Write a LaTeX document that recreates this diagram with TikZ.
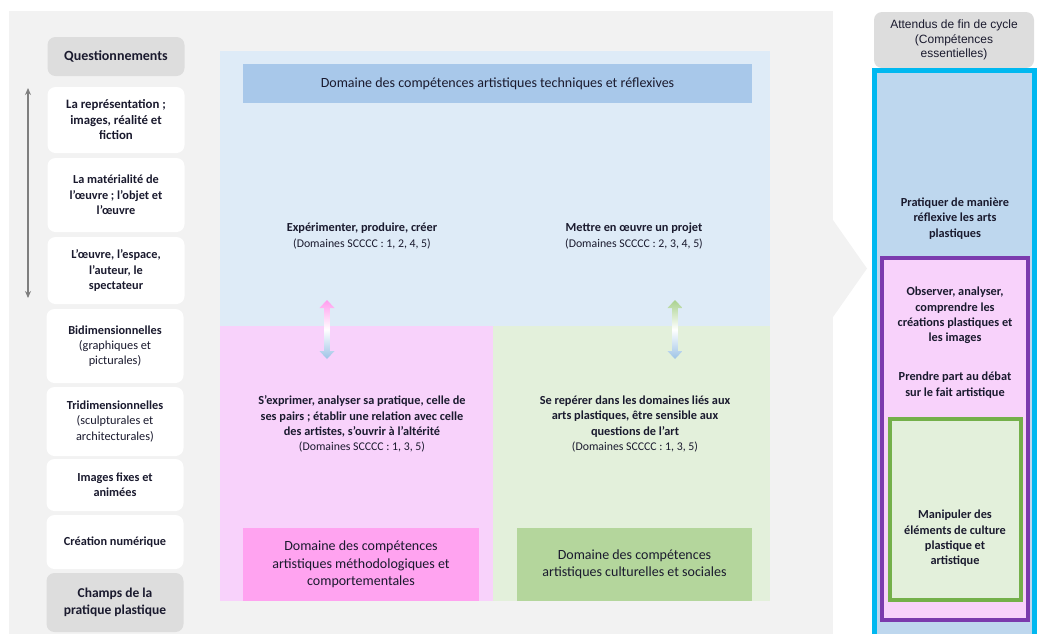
\documentclass[tikz,border=0pt]{standalone}
\usepackage{fontspec}
\setmainfont{Carlito}
\newfontfamily\arialf{Liberation Sans}
\usetikzlibrary{arrows.meta}
\definecolor{panelgray}{HTML}{F2F2F2}
\definecolor{boxgray}{HTML}{DDDDDD}
\definecolor{bluebg}{HTML}{DEEBF7}
\definecolor{bluebanner}{HTML}{A8C8EA}
\definecolor{pinkbg}{HTML}{F8D2FB}
\definecolor{greenbg}{HTML}{E3F0DB}
\definecolor{pinkbox}{HTML}{FFA3F0}
\definecolor{greenbox}{HTML}{B4D69C}
\definecolor{cyanline}{HTML}{00B8F0}
\definecolor{rightblue}{HTML}{BED7EE}
\definecolor{purpleline}{HTML}{7B3BAD}
\definecolor{greenline}{HTML}{74B04A}
\definecolor{arrowpink}{HTML}{FF9CEE}
\definecolor{arrowgreen}{HTML}{A9D18E}
\definecolor{arrowblue}{HTML}{9DC3E6}
\definecolor{txt}{HTML}{1A1A2E}
\definecolor{lgray}{HTML}{7F7F7F}
\newcommand{\mysz}{\fontsize{12.3}{15.3}\selectfont}
\newcommand{\mybig}{\fontsize{14}{17.5}\selectfont}
\newcommand{\mysmall}{\fontsize{11.8}{14.5}\selectfont}
\begin{document}
\begin{tikzpicture}[x=1pt,y=-1pt,
  lbox/.style={rounded corners=8pt, fill=white, minimum width=137pt, align=center, inner sep=0pt, font=\mysz, text=txt},
  gbox/.style={lbox, fill=boxgray},
  ctext/.style={align=center, inner sep=0pt, font=\mysz, text=txt},
  rtext/.style={ctext, font=\mysz\bfseries},
  dbox/.style={minimum height=73pt, inner sep=0pt, align=center, font=\mybig, text=txt}]
\useasboundingbox (0,0) rectangle (1038,633);
\clip (0,0) rectangle (1038,633);
% background panel and chevron
\fill[panelgray] (9,11) rectangle (833,640);
\fill[panelgray] (833,220) -- (867,268.5) -- (833,317) -- cycle;

% left column
\node[gbox, minimum height=39pt, font=\mybig\bfseries] (q) at (116,56.5) {Questionnements};
\node[lbox, minimum height=66pt, font=\fontsize{12.8}{15.5}\selectfont\bfseries] (b1) at (116,120) {La représentation ;\\images, réalité et\\fiction};
\node[lbox, minimum height=74pt, font=\mysz\bfseries] (b2) at (116,195) {La matérialité de\\l’œuvre ; l’objet et\\l’œuvre};
\node[lbox, minimum height=67pt, font=\mysz\bfseries] (b3) at (116,270.5) {L’œuvre, l’espace,\\l’auteur, le\\spectateur};
\node[lbox, minimum height=74pt] (b4) at (115,346) {\textbf{Bidimensionnelles}\\(graphiques et\\picturales)};
\node[lbox, minimum height=69pt] (b5) at (115,421.5) {\textbf{Tridimensionnelles}\\(sculpturales et\\architecturales)};
\node[lbox, minimum height=52pt, font=\mysz\bfseries] (b6) at (115,485) {Images fixes et\\animées};
\node[lbox, minimum height=54pt, font=\mysz\bfseries] (b7) at (115,542) {Création numérique};
\node[gbox, minimum height=59pt, font=\fontsize{13.5}{17}\selectfont\bfseries] (c) at (115,602.5) {Champs de la\\pratique plastique};
\coordinate (ltop) at (28,88);
\coordinate (lbot) at (28,298);
\draw[line width=2.3pt, color=lgray, {Stealth[length=7pt,width=6pt]}-{Stealth[length=7pt,width=6pt]}] (ltop) -- (lbot);

% main panel
\fill[bluebg] (220,51) rectangle (770,326);
\fill[pinkbg] (220,326) rectangle (493,601);
\fill[greenbg] (493,326) rectangle (770,601);
\node[fill=bluebanner, minimum width=509pt, minimum height=39pt, inner sep=0pt, font=\mybig, text=txt] (ban) at (497.5,83.5) {Domaine des compétences artistiques techniques et réflexives};
\node[dbox, fill=pinkbox, minimum width=236pt] (pb) at (361,564.5) {Domaine des compétences\\artistiques méthodologiques et\\comportementales};
\node[dbox, fill=greenbox, minimum width=235pt] (gb) at (634.5,564.5) {Domaine des compétences\\artistiques culturelles et sociales};

\node[ctext] (t1) at (362,236) {\textbf{Expérimenter, produire, créer}\\{\mysmall(Domaines SCCCC : 1, 2, 4, 5)}};
\node[ctext] (t2) at (634,236) {\textbf{Mettre en œuvre un projet}\\{\mysmall(Domaines SCCCC : 2, 3, 4, 5)}};
\node[ctext] (t3) at (362,424) {\textbf{S’exprimer, analyser sa pratique, celle de}\\\textbf{ses pairs ; établir une relation avec celle}\\\textbf{des artistes, s’ouvrir à l’altérité}\\{\mysmall(Domaines SCCCC : 1, 3, 5)}};
\node[ctext] (t4) at (635,424) {\textbf{Se repérer dans les domaines liés aux}\\\textbf{arts plastiques, être sensible aux}\\\textbf{questions de l’art}\\{\mysmall(Domaines SCCCC : 1, 3, 5)}};

% double arrows
\shade[top color=arrowpink, bottom color=arrowblue, middle color=white]
  (327,300) -- (334.5,308) -- (329.8,308) -- (329.8,351) -- (334.5,351) -- (327,359) -- (319.5,351) -- (324.2,351) -- (324.2,308) -- (319.5,308) -- cycle;
\shade[top color=arrowgreen, bottom color=arrowblue, middle color=white]
  (675,300) -- (682.5,308) -- (677.8,308) -- (677.8,351) -- (682.5,351) -- (675,359) -- (667.5,351) -- (672.2,351) -- (672.2,308) -- (667.5,308) -- cycle;

% right column
\node[rounded corners=8pt, fill=boxgray, minimum width=160pt, minimum height=56pt, inner sep=0pt, align=center, font=\arialf\fontsize{12}{14.2}\selectfont, text=txt] (att) at (954,40) {Attendus de fin de cycle\\(Compétences\\essentielles)};
\draw[line width=5pt, draw=cyanline, fill=rightblue] (874.5,70.5) rectangle (1034.5,650);
\draw[line width=4pt, draw=purpleline, fill=pinkbg] (882,258) rectangle (1028,620);
\draw[line width=4pt, draw=greenline, fill=greenbg] (890,419) rectangle (1021,600);
\node[rtext] (r1) at (955,218.5) {Pratiquer de manière\\réflexive les arts\\plastiques};
\node[rtext] (r2) at (955,315.5) {Observer, analyser,\\comprendre les\\créations plastiques et\\les images};
\node[rtext] (r3) at (955,385) {Prendre part au débat\\sur le fait artistique};
\node[rtext] (r4) at (955,538.5) {Manipuler des\\éléments de culture\\plastique et\\artistique};
\end{tikzpicture}
\end{document}
